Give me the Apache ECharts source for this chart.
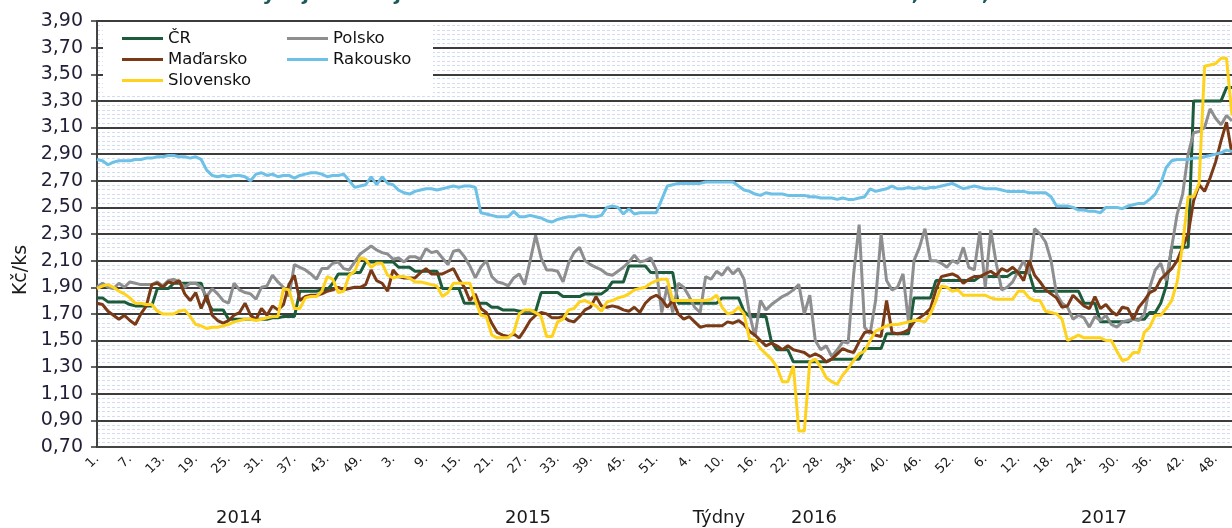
<!DOCTYPE html>
<html>
<head>
<meta charset="utf-8">
<script src="https://cdn.jsdelivr.net/npm/echarts@6/dist/echarts.min.js"></script>
<style>
html,body{margin:0;padding:0;background:#fff;}
#chart{width:1232px;height:528px;}
</style>
</head>
<body>
<div id="chart"></div>
<script>
// ---- data ----
const weeksPerYear = [[2014, 52], [2015, 53], [2016, 52], [2017, 51]];
const yearLabels = ['2014', '2015', '2016', '2017'];
const axisTitleX = 'Týdny';
const axisTitleY = 'Kč/ks';
const chartTitle = 'Vývoj CZV vajec hm. sk. M v ČR a okolních zemích v r. 2014, 2015, 2016 a 2017';
const seriesNames = ['ČR', 'Polsko', 'Maďarsko', 'Rakousko', 'Slovensko'];

const cr2014 = [1.82,1.82,1.79,1.79,1.79,1.79,1.77,1.76,1.76,1.76, 1.76,1.89,1.89,1.89,1.93,1.93,1.93,1.93,1.93,1.93, 1.80,1.73,1.73,1.73,1.66,1.66,1.66,1.66,1.66,1.66, 1.66,1.66,1.67,1.67,1.68,1.68,1.68,1.87,1.87,1.87, 1.87,1.88,1.88,1.93,2.00,2.00,2.00,2.01,2.01,2.09, 2.09,2.09];
const cr2015 = [2.09,2.09,2.09,2.05,2.05,2.05,2.02,2.02,2.02,2.02, 2.02,1.89,1.89,1.89,1.89,1.78,1.78,1.78,1.78,1.78, 1.75,1.75,1.73,1.73,1.73,1.72,1.72,1.72,1.72,1.86, 1.86,1.86,1.86,1.83,1.83,1.83,1.83,1.85,1.85,1.85, 1.85,1.88,1.94,1.94,1.94,2.06,2.06,2.06,2.06,2.01, 2.01,2.01,2.01];
const cr2016 = [2.01,1.78,1.78,1.78,1.78,1.78,1.78,1.78,1.78,1.82, 1.82,1.82,1.82,1.72,1.68,1.68,1.68,1.68,1.49,1.43, 1.43,1.43,1.34,1.34,1.34,1.34,1.34,1.34,1.34,1.36, 1.36,1.36,1.36,1.36,1.36,1.44,1.44,1.44,1.44,1.55, 1.55,1.55,1.55,1.55,1.82,1.82,1.82,1.82,1.95,1.95, 1.95,1.95];
const cr2017 = [1.95,1.95,1.95,1.95,1.98,1.98,1.98,1.98,1.98,1.98, 2.01,2.01,2.01,2.01,1.87,1.87,1.87,1.87,1.87,1.87, 1.87,1.87,1.87,1.78,1.78,1.78,1.64,1.64,1.64,1.64, 1.64,1.64,1.66,1.66,1.66,1.71,1.71,1.78,1.91,2.20, 2.20,2.20,2.20,3.30,3.30,3.30,3.30,3.30,3.30,3.40, 3.40];

const pl2014 = [1.90,1.93,1.90,1.89,1.93,1.90,1.94,1.93,1.92,1.92, 1.92,1.94,1.91,1.95,1.96,1.94,1.90,1.93,1.93,1.90, 1.83,1.89,1.85,1.80,1.78,1.93,1.88,1.86,1.85,1.81, 1.90,1.91,1.99,1.94,1.90,1.83,2.07,2.05,2.03,2.00, 1.96,2.04,2.04,2.08,2.09,2.04,2.03,2.09,2.15,2.18, 2.21,2.18];
const pl2015 = [2.16,2.15,2.11,2.12,2.09,2.13,2.13,2.11, 2.19,2.16,2.17,2.12,2.07,2.17,2.18,2.13,2.06,1.97, 2.05,2.10,1.98,1.94,1.93,1.91,1.97,2.00,1.92,2.10, 2.29,2.12,2.03,2.03,2.02,1.94,2.08,2.16,2.20,2.10, 2.07,2.05,2.03,2.00,1.99,2.02,2.05,2.09,2.14,2.09, 2.10,2.12,2.03,1.71,1.91];
const pl2016 = [1.71,1.93,1.90,1.83,1.75,1.71,1.98,1.96,2.02,1.99, 2.05,2.00,2.04,1.96,1.70,1.53,1.80,1.73,1.77,1.80, 1.83,1.85,1.88,1.92,1.70,1.84,1.50,1.43,1.46,1.38, 1.43,1.49,1.48,2.00,2.37,1.60,1.55,1.80,2.30,1.95, 1.88,1.90,2.00,1.64,2.10,2.20,2.34,2.10,2.10,2.08, 2.05,2.10];
const pl2017 = [2.08,2.20,2.05,2.03,2.32,1.90,2.33,2.08,1.88,1.90, 1.94,2.02,2.10,2.00,2.34,2.30,2.24,2.10,1.85,1.78, 1.75,1.66,1.69,1.67,1.60,1.68,1.65,1.69,1.62,1.60, 1.64,1.65,1.66,1.65,1.70,1.90,2.03,2.08,1.95,2.20, 2.45,2.60,2.90,3.06,3.07,3.10,3.24,3.17,3.12,3.19, 3.15];

const hu2014 = [1.78,1.77,1.72,1.69,1.66,1.69,1.65,1.62,1.70,1.76, 1.92,1.93,1.90,1.94,1.93,1.95,1.85,1.80,1.86,1.74, 1.84,1.69,1.65,1.63,1.65,1.69,1.71,1.78,1.69,1.66, 1.74,1.69,1.76,1.73,1.77,1.92,1.99,1.80,1.83,1.84, 1.84,1.85,1.87,1.88,1.90,1.88,1.89,1.90,1.90,1.92, 2.03,1.95];
const hu2015 = [1.93,1.87,2.03,1.98,1.97,1.97,1.97,2.01, 2.04,2.00,2.00,2.00,2.02,2.04,1.96,1.90,1.80,1.85, 1.74,1.71,1.63,1.56,1.54,1.53,1.55,1.52,1.58,1.65, 1.69,1.71,1.70,1.67,1.67,1.68,1.65,1.64,1.68,1.73, 1.75,1.83,1.76,1.75,1.76,1.75,1.73,1.72,1.75,1.71, 1.78,1.82,1.84,1.81,1.75];
const hu2016 = [1.80,1.70,1.66,1.68,1.64,1.60,1.61,1.61,1.61,1.61, 1.64,1.63,1.65,1.62,1.57,1.54,1.50,1.46,1.48,1.46, 1.43,1.46,1.43,1.42,1.41,1.38,1.40,1.38,1.34,1.36, 1.40,1.44,1.42,1.41,1.49,1.56,1.57,1.54,1.53,1.80, 1.56,1.55,1.56,1.58,1.64,1.67,1.70,1.74,1.88,1.98, 1.99,2.00];
const hu2017 = [1.98,1.93,1.96,1.98,1.98,2.00,2.02,1.99,2.04,2.02, 2.05,2.01,1.95,2.10,1.99,1.94,1.88,1.85,1.82,1.75, 1.76,1.84,1.80,1.76,1.74,1.83,1.74,1.77,1.72,1.69, 1.75,1.74,1.66,1.75,1.80,1.86,1.88,1.96,2.00,2.04, 2.10,2.20,2.30,2.55,2.67,2.62,2.72,2.84,3.00,3.14, 2.90];

const at2014 = [2.86,2.85,2.82,2.84,2.85,2.85,2.85,2.86,2.86,2.87, 2.87,2.88,2.88,2.89,2.89,2.88,2.88,2.87,2.88,2.86, 2.78,2.74,2.73,2.74,2.73,2.74,2.74,2.73,2.70,2.75, 2.76,2.74,2.75,2.73,2.74,2.74,2.72,2.74,2.75,2.76, 2.76,2.75,2.73,2.74,2.74,2.75,2.70,2.65,2.66,2.67, 2.73,2.67];
const at2015 = [2.73,2.68,2.67,2.63,2.61,2.60,2.62,2.63, 2.64,2.64,2.63,2.64,2.65,2.66,2.65,2.66,2.66,2.65, 2.46,2.45,2.44,2.43,2.43,2.43,2.47,2.43,2.43,2.44, 2.43,2.42,2.40,2.39,2.41,2.42,2.43,2.43,2.44,2.44, 2.43,2.43,2.44,2.50,2.51,2.50,2.45,2.49,2.45,2.46, 2.46,2.46,2.46,2.56,2.66];
const at2016 = [2.67,2.68,2.68,2.68,2.68,2.68,2.69,2.69,2.69,2.69, 2.69,2.69,2.66,2.63,2.62,2.60,2.59,2.61,2.60,2.60, 2.60,2.59,2.59,2.59,2.59,2.58,2.58,2.57,2.57,2.57, 2.56,2.57,2.56,2.56,2.57,2.58,2.64,2.62,2.63,2.64, 2.66,2.64,2.64,2.65,2.64,2.65,2.64,2.65,2.65,2.66, 2.67,2.68];
const at2017 = [2.66,2.64,2.65,2.66,2.65,2.64,2.64,2.64,2.63,2.62, 2.62,2.62,2.62,2.61,2.61,2.61,2.61,2.58,2.51,2.51, 2.51,2.50,2.48,2.48,2.47,2.47,2.46,2.50,2.50,2.50, 2.49,2.51,2.52,2.53,2.53,2.56,2.60,2.68,2.80,2.85, 2.86,2.86,2.86,2.87,2.87,2.88,2.89,2.90,2.91,2.93, 2.92];

const sk2014 = [1.89,1.91,1.92,1.90,1.87,1.85,1.82,1.78,1.78,1.77, 1.77,1.72,1.70,1.70,1.70,1.72,1.73,1.68,1.62,1.61, 1.59,1.60,1.60,1.61,1.62,1.64,1.65,1.66,1.66,1.65, 1.66,1.67,1.68,1.68,1.89,1.88,1.74,1.74,1.82,1.83, 1.83,1.87,1.98,1.96,1.86,1.87,1.99,2.02,2.12,2.11, 2.05,2.08];
const sk2015 = [2.08,1.99,1.97,1.98,1.98,1.97,1.94,1.94, 1.93,1.92,1.91,1.83,1.86,1.93,1.93,1.93,1.93,1.80, 1.69,1.68,1.54,1.52,1.52,1.52,1.56,1.70,1.73,1.73, 1.71,1.68,1.53,1.53,1.64,1.66,1.73,1.74,1.79,1.80, 1.78,1.76,1.72,1.79,1.80,1.82,1.83,1.85,1.88,1.89, 1.90,1.93,1.95,1.96,1.96];
const sk2016 = [1.80,1.80,1.80,1.80,1.80,1.80,1.80,1.81,1.84,1.75, 1.70,1.71,1.75,1.70,1.51,1.50,1.44,1.40,1.36,1.30, 1.19,1.19,1.31,0.82,0.82,1.34,1.36,1.30,1.22,1.19, 1.17,1.24,1.29,1.35,1.40,1.42,1.50,1.57,1.59,1.61, 1.62,1.62,1.63,1.64,1.65,1.65,1.64,1.70,1.80,1.91, 1.90,1.87];
const sk2017 = [1.88,1.84,1.84,1.84,1.84,1.84,1.82,1.81,1.81,1.81, 1.81,1.87,1.87,1.82,1.80,1.80,1.72,1.71,1.70,1.66, 1.50,1.52,1.54,1.52,1.52,1.52,1.52,1.50,1.50,1.42, 1.35,1.36,1.41,1.41,1.56,1.60,1.69,1.69,1.74,1.80, 1.94,2.22,2.58,2.58,2.68,3.56,3.57,3.58,3.62,3.62, 3.19];

// ---- build ----
const categories = [];
weeksPerYear.forEach(([y, n]) => { for (let w = 1; w <= n; w++) categories.push(y + '-' + w); });
const values = {
  'ČR': cr2014.concat(cr2015, cr2016, cr2017),
  'Polsko': pl2014.concat(pl2015, pl2016, pl2017),
  'Maďarsko': hu2014.concat(hu2015, hu2016, hu2017),
  'Rakousko': at2014.concat(at2015, at2016, at2017),
  'Slovensko': sk2014.concat(sk2015, sk2016, sk2017)
};
const colors = {'ČR': '#1D5C3B', 'Polsko': '#8E8E8E', 'Maďarsko': '#7A3A16', 'Rakousko': '#6DC0E6', 'Slovensko': '#FFD21C'};

const FONT = 'DejaVu Sans';
const chart = echarts.init(document.getElementById('chart'), null, {renderer: 'canvas'});

const legendBase = {
  orient: 'vertical', top: 28, itemWidth: 41, itemHeight: 3, itemGap: 0, icon: 'rect', padding: 0,
  textStyle: {fontFamily: FONT, fontSize: 16.5, lineHeight: 21, color: '#111'}, z: 10
};

const option = {
  animation: false,
  backgroundColor: '#ffffff',
  grid: {left: 97, right: 0, top: 21, bottom: 81, containLabel: false, outerBoundsMode: 'none'},
  legend: [
    Object.assign({}, legendBase, {left: 122, data: ['ČR', 'Maďarsko', 'Slovensko']}),
    Object.assign({}, legendBase, {left: 287, data: ['Polsko', 'Rakousko']})
  ],
  xAxis: {
    type: 'category', data: categories, boundaryGap: false,
    axisLine: {lineStyle: {color: '#444', width: 2}},
    axisTick: {show: false},
    axisLabel: {
      interval: 5, rotate: 45, margin: 10, fontFamily: FONT, fontSize: 13, color: '#1a1a1a',
      formatter: v => v.split('-')[1] + '.'
    },
    splitLine: {show: false}
  },
  yAxis: {
    type: 'value', min: 0.7, max: 3.9, interval: 0.2,
    axisLine: {show: true, lineStyle: {color: '#444', width: 2}},
    axisTick: {show: true, length: 6, lineStyle: {color: '#333', width: 1.5}},
    axisLabel: {fontFamily: FONT, fontSize: 19, color: '#1f1f38', margin: 14,
      formatter: v => v.toFixed(2).replace('.', ',')},
    splitLine: {show: true, lineStyle: {color: '#3c3c3c', width: 2}},
    minorTick: {show: false, splitNumber: 6},
    minorSplitLine: {show: true, lineStyle: {color: '#d2dcf2', width: 1, type: [3, 2]}}
  },
  graphic: [
    {type: 'rect', z: 3, shape: {x: 103, y: 23, width: 330, height: 70}, style: {fill: '#ffffff'}},
    {type: 'text', z: 10, x: 691, y: 5, style: {text: chartTitle, fontFamily: FONT, fontWeight: 'bold', fontSize: 20, fill: '#1d5b5b', align: 'center', verticalAlign: 'bottom'}},
    {type: 'text', z: 10, x: 21, y: 270, rotation: Math.PI / 2, style: {text: axisTitleY, fontFamily: FONT, fontSize: 19, fill: '#1a1a1a', align: 'center', verticalAlign: 'middle'}},
    {type: 'text', z: 10, x: 239, y: 518, style: {text: yearLabels[0], fontFamily: FONT, fontSize: 18, fill: '#1a1a1a', align: 'center', verticalAlign: 'middle'}},
    {type: 'text', z: 10, x: 528, y: 518, style: {text: yearLabels[1], fontFamily: FONT, fontSize: 18, fill: '#1a1a1a', align: 'center', verticalAlign: 'middle'}},
    {type: 'text', z: 10, x: 719, y: 518, style: {text: axisTitleX, fontFamily: FONT, fontSize: 18, fill: '#1a1a1a', align: 'center', verticalAlign: 'middle'}},
    {type: 'text', z: 10, x: 814, y: 518, style: {text: yearLabels[2], fontFamily: FONT, fontSize: 18, fill: '#1a1a1a', align: 'center', verticalAlign: 'middle'}},
    {type: 'text', z: 10, x: 1104, y: 518, style: {text: yearLabels[3], fontFamily: FONT, fontSize: 18, fill: '#1a1a1a', align: 'center', verticalAlign: 'middle'}}
  ],
  series: seriesNames.map(name => ({
    name: name, type: 'line', data: values[name], symbol: 'none', showSymbol: false,
    lineStyle: {color: colors[name], width: 3}, itemStyle: {color: colors[name]},
    emphasis: {disabled: true}
  }))
};
chart.setOption(option);
</script>
</body>
</html>
